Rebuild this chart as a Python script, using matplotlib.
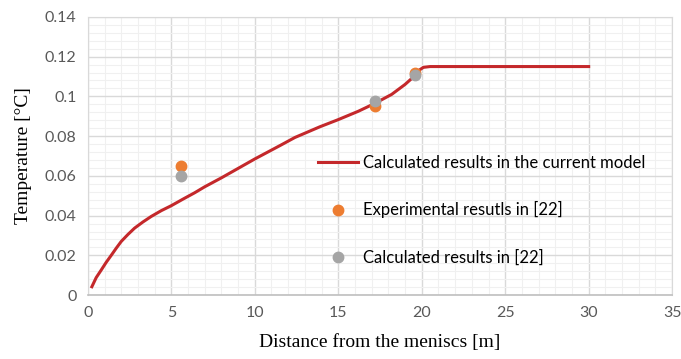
import matplotlib
matplotlib.use("Agg")
import matplotlib.pyplot as plt
from matplotlib.ticker import MultipleLocator

# model curve: temperature vs distance from the meniscus
dist_model = [0.24, 0.5, 0.8, 1.1, 1.4, 1.7, 2.0, 2.4, 2.8, 3.3, 3.8, 4.4,
              5.0, 5.7, 6.4, 7.0, 8.0, 8.8, 10.0, 11.5, 12.4, 13.9, 15.0,
              16.2, 17.2, 18.2, 19.0, 19.6, 19.85, 20.1, 20.5, 30.0]
temp_model = [0.0042, 0.0088, 0.0126, 0.0165, 0.0200, 0.0236, 0.0270,
              0.0305, 0.0337, 0.0368, 0.0396, 0.0425, 0.0450, 0.0483,
              0.0515, 0.0545, 0.0590, 0.0628, 0.0685, 0.0752, 0.0793,
              0.0847, 0.0883, 0.0925, 0.0965, 0.1010, 0.1060, 0.1105,
              0.1132, 0.1146, 0.1150, 0.1150]

# reference [22]
dist_ref = [5.6, 17.2, 19.6]
temp_exp = [0.065, 0.095, 0.112]
temp_calc = [0.060, 0.0977, 0.1105]

x_ticks = [0, 5, 10, 15, 20, 25, 30, 35]
y_ticks = [0, 0.02, 0.04, 0.06, 0.08, 0.1, 0.12, 0.14]
y_tick_labels = ["0", "0.02", "0.04", "0.06", "0.08", "0.1", "0.12", "0.14"]

fig = plt.figure(figsize=(6.81, 3.59), dpi=100)
ax = fig.add_axes([0.129, 0.178, 0.858, 0.775])

ax.plot(dist_model, temp_model, color="#c4282b", linewidth=2.2,
        solid_joinstyle="round", label="Calculated results in the current model",
        zorder=3)
ax.plot(dist_ref, temp_exp, linestyle="none", marker="o", markersize=7.5,
        color="#ed7d31", label="Experimental resutls in [22]", zorder=4)
ax.plot(dist_ref, temp_calc, linestyle="none", marker="o", markersize=7.5,
        color="#a5a5a5", label="Calculated results in [22]", zorder=5)

ax.set_xlim(0, 35)
ax.set_ylim(0, 0.14)
ax.set_xticks(x_ticks)
ax.set_yticks(y_ticks)
ax.set_yticklabels(y_tick_labels)
ax.xaxis.set_minor_locator(MultipleLocator(1))
ax.yaxis.set_minor_locator(MultipleLocator(0.004))
ax.grid(which="major", color="#d9d9d9", linewidth=1.0)
ax.grid(which="minor", color="#f0f0f0", linewidth=0.8)
ax.set_axisbelow(True)
ax.tick_params(which="both", length=0, pad=8)
ax.tick_params(labelsize=11.5, labelcolor="#595959")
for lab in ax.get_xticklabels() + ax.get_yticklabels():
    lab.set_fontfamily("Lato")
for sp in ax.spines.values():
    sp.set_color("#d9d9d9")
ax.spines["bottom"].set_color("#bfbfbf")
ax.spines["bottom"].set_linewidth(1.2)

ax.set_xlabel("Distance from the meniscs [m]", family="Liberation Serif",
              fontsize=14, labelpad=10)
ax.set_ylabel("Temperature [°C]", family="Liberation Serif", fontsize=14,
              labelpad=9)

ax.legend(loc="center left", bbox_to_anchor=(0.380, 0.306), frameon=False,
          borderpad=0, handlelength=2.4, handletextpad=0.3, labelspacing=1.85,
          numpoints=1, prop={"family": "Lato", "size": 12})

fig.savefig("out.png", dpi=100, facecolor="white")
